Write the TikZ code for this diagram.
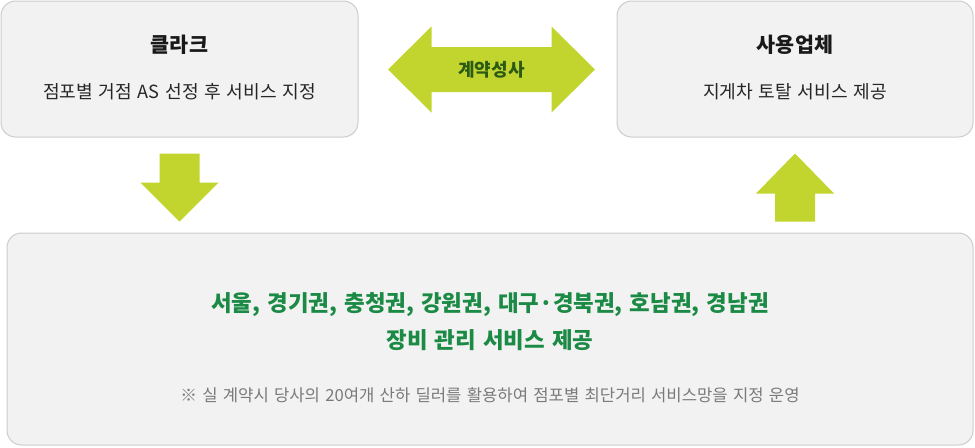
\documentclass[tikz,border=0pt]{standalone}
\usepackage{fontspec}
\setmainfont{Noto Sans CJK KR}[WordSpace=1.4]
\usepackage{xcolor}
\usepackage{tikz}
\usetikzlibrary{positioning,calc}
\definecolor{panelfill}{HTML}{F2F2F2}
\definecolor{panelline}{HTML}{CCCCCC}
\definecolor{limefill}{HTML}{C2D52E}
\definecolor{dealgreen}{HTML}{2B5A14}
\definecolor{areagreen}{HTML}{1B8A45}
\definecolor{notegray}{HTML}{7A7A7A}

\begin{document}
\begin{tikzpicture}[
    x=0.75pt,y=-0.75pt,
    panel/.style={draw=panelline,fill=panelfill,line width=0.75pt,rounded corners=11pt,inner sep=0pt},
    headtxt/.style={font=\fontsize{15.5pt}{18pt}\selectfont\bfseries,text=black!90},
    subtxt/.style={font=\fontsize{13.6pt}{16pt}\selectfont,text=black!85},
    dealtxt/.style={font=\fontsize{13.5pt}{15pt}\selectfont\bfseries,text=dealgreen},
    areatxt/.style={font=\fontsize{16.8pt}{27.75pt}\selectfont\bfseries,text=areagreen,align=center},
    notetxt/.style={font=\fontsize{12.5pt}{14pt}\selectfont,text=notegray},
    blockarr/.style={fill=limefill}
  ]
    \useasboundingbox (0,0) rectangle (975,447);
    % panels
    \node[panel,minimum width=267.75pt,minimum height=102pt] (clark) at (179.5,69) {};
    \node[panel,minimum width=267pt,minimum height=102pt] (user) at (795,69) {};
    \node[panel,minimum width=724.5pt,minimum height=159pt] (region) at (490,339) {};
    % panel texts
    \node[headtxt] (clarkname) at (179.5,45) {클라크};
    \node[subtxt] (clarkjob) at (179.5,92) {점포별 거점 AS 선정 후 서비스 지정};
    \node[headtxt] (username) at (795,45) {사용업체};
    \node[subtxt] (userjob) at (795,92) {지게차 토탈 서비스 제공};
    \node[areatxt] (areas) at (490,321.5) {서울, 경기권, 충청권, 강원권, 대구·경북권, 호남권, 경남권\\장비 관리 서비스 제공};
    \node[notetxt] (note) at (490,395) {※ 실 계약시 당사의 20여개 산하 딜러를 활용하여 점포별 최단거리 서비스망을 지정 운영};
    % block arrows
    \coordinate (dealmid) at (491.5,69.5);
    \fill[blockarr,shift={(dealmid)}] (-103.5,0) -- (-60,-43) -- (-60,-22.5) -- (60,-22.5) -- (60,-43) -- (103.5,0)
      -- (60,43) -- (60,22.5) -- (-60,22.5) -- (-60,43) -- cycle;
    \node[dealtxt] (deal) at (dealmid) {계약성사};
    \fill[blockarr,shift={(clark.south)}] (-20,16) -- (20,16) -- (20,45) -- (39,45) -- (0,84) -- (-39,45) -- (-20,45) -- cycle;
    \fill[blockarr,shift={(user.south)}] (0,16) -- (39,56) -- (20,56) -- (20,84) -- (-20,84) -- (-20,56) -- (-39,56) -- cycle;
  \end{tikzpicture}
\end{document}
